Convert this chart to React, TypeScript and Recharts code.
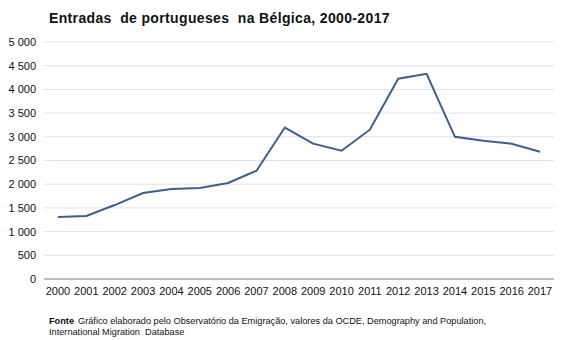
import { LineChart, Line, XAxis, YAxis, CartesianGrid } from "recharts";

const years = [
  "2000", "2001", "2002", "2003", "2004", "2005", "2006", "2007", "2008",
  "2009", "2010", "2011", "2012", "2013", "2014", "2015", "2016", "2017",
];
const entradas = [
  1310, 1330, 1560, 1815, 1900, 1920, 2025, 2285, 3195,
  2855, 2705, 3150, 4225, 4330, 3000, 2915, 2855, 2685,
];
const yTicks = [0, 500, 1000, 1500, 2000, 2500, 3000, 3500, 4000, 4500, 5000];

const data = years.map((year, i) => ({ year, value: entradas[i] }));

const fmt = (v: number) => (v >= 1000 ? `${Math.floor(v / 1000)} ${String(v % 1000).padStart(3, "0")}` : String(v));

const font = "'Liberation Sans', Arial, sans-serif";

export default function App() {
  return (
    <div style={{ position: "absolute", left: 0, top: 0, width: 567, height: 340, background: "#fff", fontFamily: font }}>
      <div style={{ position: "absolute", left: 49, top: 10, fontSize: 14, lineHeight: "16px", fontWeight: "bold", letterSpacing: 0.35, whiteSpace: "pre", color: "#111" }}>
        {"Entradas  de portugueses  na Bélgica, 2000-2017"}
      </div>
      <LineChart width={567} height={340} data={data} margin={{ top: 42, right: 13, left: 0, bottom: 31 }}>
        <CartesianGrid vertical={false} stroke="#dce2ea" />
        <XAxis
          dataKey="year"
          interval={0}
          padding={{ left: 14, right: 14 }}
          tickLine={false}
          axisLine={{ stroke: "#8c8c8c" }}
          tick={{ fontSize: 11, fill: "#111", fontFamily: font }}
          height={30}
        />
        <YAxis
          width={44}
          domain={[0, 5000]}
          ticks={yTicks}
          tickFormatter={fmt}
          axisLine={false}
          tickLine={false}
          tick={{ fontSize: 11, fill: "#111", fontFamily: font }}
        />
        <Line
          type="linear"
          dataKey="value"
          stroke="#3d5f8a"
          strokeWidth={2}
          dot={false}
          isAnimationActive={false}
        />
      </LineChart>
      <div style={{ position: "absolute", left: 49, top: 316, fontSize: 9.2, lineHeight: "11px", color: "#111", whiteSpace: "pre" }}>
        <div>
          <span style={{ fontWeight: "bold", marginRight: 4 }}>Fonte</span>
          <span>{"Gráfico elaborado pelo Observatório da Emigração, valores da OCDE, Demography and Population,"}</span>
        </div>
        <div>{"International Migration  Database"}</div>
      </div>
    </div>
  );
}
